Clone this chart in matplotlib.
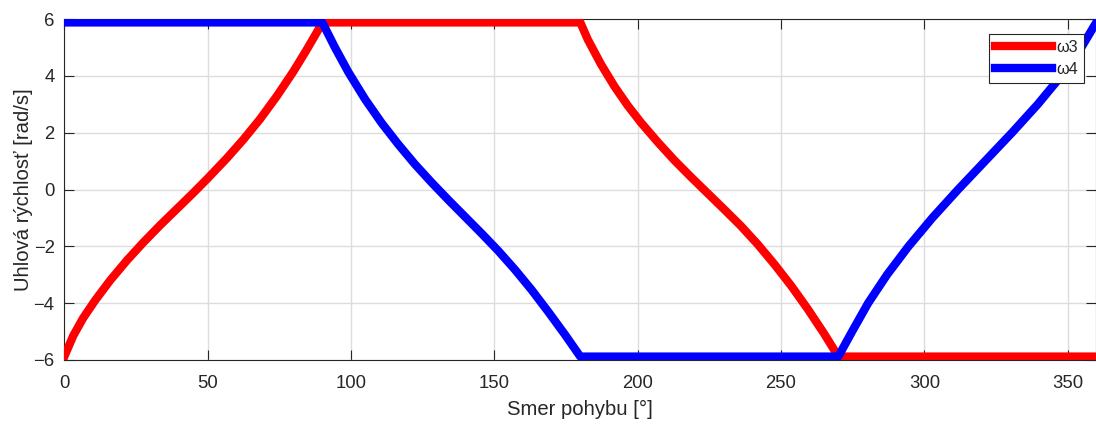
import matplotlib
matplotlib.use("Agg")
import matplotlib.pyplot as plt

plt.rcParams['font.family'] = ['Liberation Sans', 'DejaVu Sans']

# Crank angle [deg] and angular velocity of link 3 [rad/s]
omega3_deg = [0, 3.1, 6.6, 10.7, 15.9, 21.8, 27.6, 33.4, 39.2, 45.0, 50.0, 56.6, 62.4, 68.3,
              74.1, 79.9, 84.5, 88.6, 90,
              180, 182.6, 187.2, 191.9, 196.5, 201.2, 207.0, 212.8, 218.6, 224.4, 230.2,
              236.0, 241.9, 247.7, 253.5, 259.3, 265.1, 270,
              360]
omega3 = [-5.88, -5.15, -4.52, -3.91, -3.21, -2.50, -1.86, -1.26, -0.69, -0.12, 0.39, 1.09, 1.75, 2.48,
          3.28, 4.15, 4.91, 5.62, 5.88,
          5.88, 5.28, 4.41, 3.63, 2.96, 2.35, 1.67, 1.03, 0.44, -0.13, -0.70,
          -1.28, -1.93, -2.63, -3.38, -4.20, -5.08, -5.88,
          -5.88]

# Angular velocity of link 4 [rad/s]
omega4_deg = [0, 90, 94.4, 99.1, 104.9, 110.7, 116.5, 122.3, 128.1, 133.9, 139.8, 145.6, 151.4,
              157.2, 163.0, 168.8, 174.6, 180,
              270, 274.8, 280.4, 287.0, 294.5, 302.8, 311.8, 321.2, 330.6, 339.6, 347.8, 354.8,
              360]
omega4 = [5.88, 5.88, 5.00, 4.13, 3.18, 2.34, 1.59, 0.89, 0.25, -0.36, -0.96, -1.55, -2.16,
          -2.82, -3.53, -4.30, -5.10, -5.88,
          -5.88, -5.00, -4.00, -3.00, -2.00, -1.00, 0.00, 1.00, 2.00, 3.00, 4.00, 5.00,
          5.88]

series_labels = ['ω3', 'ω4']
x_ticks = [0, 50, 100, 150, 200, 250, 300, 350]
y_ticks = [-6, -4, -2, 0, 2, 4, 6]

W, H = 1096, 425
fig = plt.figure(figsize=(W / 100, H / 100), dpi=100)
ax = fig.add_axes([64.3 / W, (H - 360) / H, 1032 / W, (360 - 19) / H])

text_col = '#262626'
ax.plot(omega3_deg, omega3, color='#ff0000', lw=6, label=series_labels[0],
        solid_joinstyle='round', zorder=3)
ax.plot(omega4_deg, omega4, color='#0000ff', lw=6, label=series_labels[1],
        solid_joinstyle='round', zorder=4)

ax.set_xlim(0, 360)
ax.set_ylim(-6, 6)
ax.set_xticks(x_ticks)
ax.set_yticks(y_ticks)
ax.grid(True, color='#dcdcdc', lw=1.0, zorder=0)
ax.set_axisbelow(True)

ax.tick_params(direction='in', length=7, width=0.8, colors=text_col,
               labelsize=13.3, top=True, right=True)
ax.tick_params(axis='x', pad=10.5)
ax.tick_params(axis='y', pad=7)
for s in ax.spines.values():
    s.set_color(text_col)
    s.set_linewidth(0.8)

ax.set_xlabel('Smer pohybu [°]', fontsize=14.6, color=text_col, labelpad=6)
ax.set_ylabel('Uhlová rýchlosť [rad/s]', fontsize=14.6, color=text_col, labelpad=0.5)

leg = ax.legend(loc='upper right', bbox_to_anchor=(1 - 12 / 1032, 1 - 15 / 341),
                borderaxespad=0, fontsize=11.7, handlelength=3.5, handletextpad=0.3,
                borderpad=0.35, labelspacing=0.44, fancybox=False, framealpha=1,
                edgecolor='#262626')
leg.get_frame().set_linewidth(0.8)
for t in leg.get_texts():
    t.set_color(text_col)

fig.savefig('out.png', dpi=100)
